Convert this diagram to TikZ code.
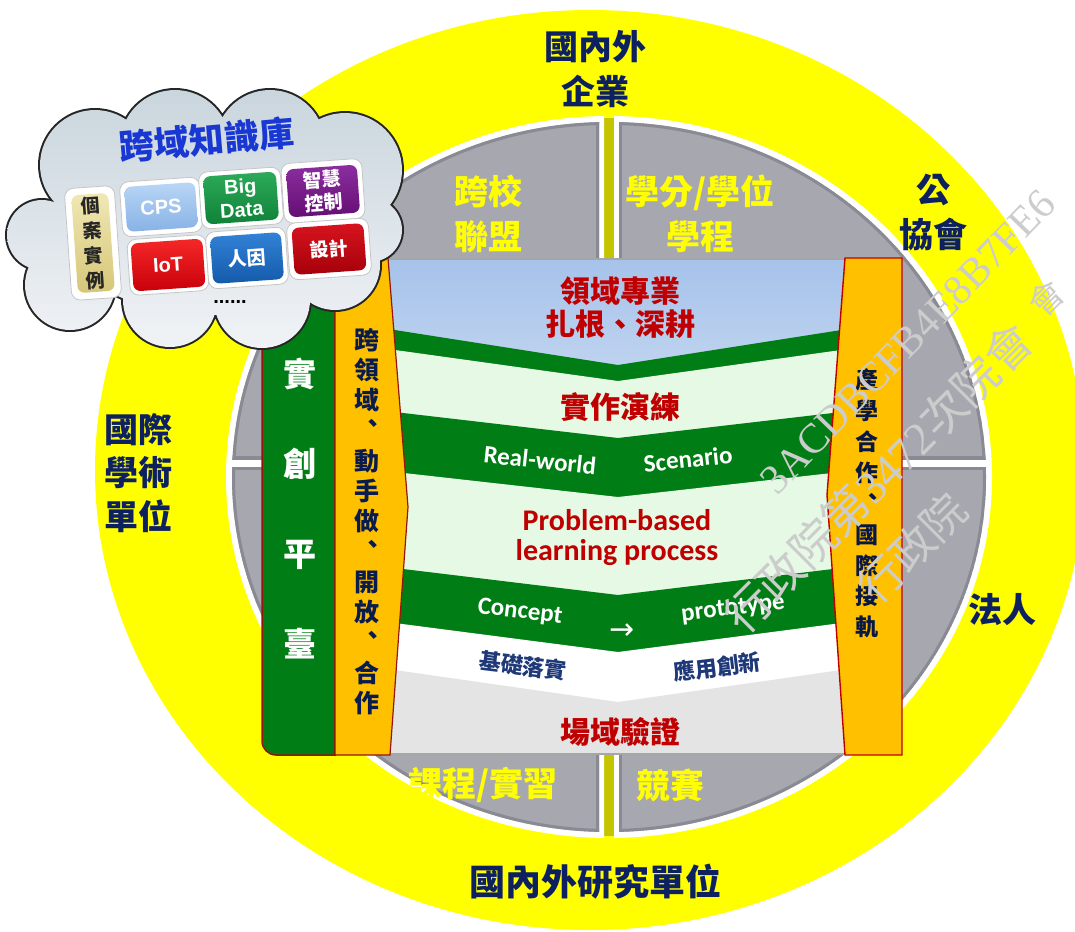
\documentclass[tikz,border=0pt]{standalone}
\usepackage{fontspec}
\newfontfamily\cjk{Noto Sans CJK TC}
\newfontfamily\arialf{Liberation Sans}
\newfontfamily\calf{Carlito}
\newfontfamily\serf{Liberation Serif}
\newfontfamily\djv{DejaVu Sans}
\newcommand\vcomma{\makebox[1em][c]{\raisebox{0.3em}{\hspace{0.5em}、}}}
\newcommand\fs[2]{\fontsize{#1}{#2}\selectfont}
\definecolor{navy}{RGB}{13,33,97}
\definecolor{yel}{RGB}{255,255,0}
\definecolor{olivey}{RGB}{196,196,0}
\definecolor{qgray}{RGB}{167,167,175}
\definecolor{qdark}{RGB}{138,138,148}
\definecolor{dred}{RGB}{192,0,0}
\definecolor{pgreen}{RGB}{0,125,20}
\definecolor{lgreen}{RGB}{229,249,229}
\definecolor{lblueA}{RGB}{165,194,234}
\definecolor{lblueB}{RGB}{198,216,241}
\definecolor{lgray}{RGB}{228,228,228}
\definecolor{orangeb}{RGB}{255,192,0}
\definecolor{barline}{RGB}{150,20,10}
\definecolor{bnavy}{RGB}{31,56,120}
\definecolor{ttlblue}{RGB}{25,55,210}
\definecolor{wmgray}{RGB}{204,204,204}
\definecolor{tanA}{RGB}{240,232,180}
\definecolor{tanB}{RGB}{214,198,120}
\definecolor{cpsA}{RGB}{185,214,245}
\definecolor{cpsB}{RGB}{135,178,230}
\definecolor{bdA}{RGB}{45,170,90}
\definecolor{bdB}{RGB}{15,130,55}
\definecolor{smA}{RGB}{140,45,160}
\definecolor{smB}{RGB}{100,15,115}
\definecolor{iotA}{RGB}{245,40,40}
\definecolor{iotB}{RGB}{200,0,10}
\definecolor{rnA}{RGB}{50,130,215}
\definecolor{rnB}{RGB}{20,90,170}
\definecolor{sjA}{RGB}{215,20,30}
\definecolor{sjB}{RGB}{165,0,10}
\definecolor{cloudA}{RGB}{200,212,220}
\definecolor{cloudB}{RGB}{242,244,247}
\begin{document}
\begin{tikzpicture}[x=1pt,y=-1pt,every node/.style={inner sep=0pt},
  navytxt/.style={text=navy, font=\cjk\bfseries\fs{34}{45}, align=center},
  yeltxt/.style={text=yel, font=\cjk\bfseries\fs{34}{45}, align=center},
  redtxt/.style={text=dred, font=\cjk\bfseries\fs{30}{33}, align=center},
  bandtxt/.style={text=white, font=\calf\bfseries\fs{25}{25}},
  bluetxt/.style={text=bnavy, font=\cjk\bfseries\fs{22}{22}},
  btnframe/.style={fill=white, draw=gray!45, line width=0.8, rounded corners=9, rotate=4},
  btn/.style={rounded corners=7, rotate=4, text=white, align=center},
  wm/.style={text=wmgray}]
\useasboundingbox (0,0) rectangle (1075,931);
\fill[white] (0,0) rectangle (1075,931);
% outer yellow ring
\fill[yel] (590,470) ellipse [x radius=495, y radius=460];
% inner quadrants
\fill[olivey] (609,477) ellipse [x radius=381, y radius=359];
\foreach \sx/\sy in {-1/-1,1/-1,-1/1,1/1}{
  \begin{scope}
    \clip ({609+\sx*5},{463+\sy*0}) rectangle ({609+\sx*500},{463+\sy*500});
    \fill[white] (609,477) ellipse [x radius=383, y radius=361];
  \end{scope}
  \begin{scope}
    \clip (609,477) ellipse [x radius=377, y radius=355];
    \clip ({609+\sx*10},{463+\sy*4}) rectangle ({609+\sx*500},{463+\sy*500});
    \fill[qgray] (609,477) ellipse [x radius=377, y radius=355];
    \draw[qdark, line width=6] (609,477) ellipse [x radius=377, y radius=355];
    \draw[qdark, line width=6] ({609+\sx*10},{463+\sy*4}) -- ({609+\sx*10},{463+\sy*500});
    \draw[qdark, line width=6] ({609+\sx*10},{463+\sy*4}) -- ({609+\sx*500},{463+\sy*4});
  \end{scope}
}
% centre panel
\begin{scope}
  \clip (388,259) -- (408,507) -- (390,754) -- (845,754) -- (827,495) -- (845,259) -- cycle;
  \fill[top color=lblueA, bottom color=lblueB] (380,255) rectangle (860,400);
  \fill[pgreen] (380,327.7) -- (618,365) -- (856,327.7) -- (856,760) -- (380,760) -- cycle;
  \fill[lgreen] (380,347.9) -- (618,381) -- (856,347.9) -- (856,760) -- (380,760) -- cycle;
  \fill[pgreen] (380,410.3) -- (618,438) -- (856,410.3) -- (856,760) -- (380,760) -- cycle;
  \fill[lgreen] (380,470.3) -- (618,497) -- (856,470.3) -- (856,760) -- (380,760) -- cycle;
  \fill[pgreen] (380,566.2) -- (618,595) -- (856,566.2) -- (856,760) -- (380,760) -- cycle;
  \fill[white] (380,621.1) -- (618,652) -- (856,621.1) -- (856,760) -- (380,760) -- cycle;
  \fill[lgray] (380,667.9) -- (618,702) -- (856,667.9) -- (856,760) -- (380,760) -- cycle;
\end{scope}
\draw[gray!70, line width=1.2] (388,259) -- (845,259) (390,754) -- (845,754);
% side bars
\draw[fill=pgreen, draw=barline, line width=1.5] (335,258) -- (262,258) -- (262,741)
  arc[start angle=180, end angle=90, radius=14] -- (335,755) -- cycle;
\draw[fill=orangeb, draw=barline, line width=1.2] (335,258) -- (388,258) -- (408,507) -- (390,755) -- (335,755) -- cycle;
\draw[fill=orangeb, draw=dred, line width=1.4] (845,258) -- (902,258) -- (902,755) -- (845,755) -- (827,495) -- cycle;
% cloud
\def\cloudshape{(95,165) circle[radius=55] (42,235) circle[radius=35] (70,285) circle[radius=45]
  (170,300) circle[radius=47] (262,300) circle[radius=48] (335,265) circle[radius=45]
  (370,230) circle[radius=32] (345,170) circle[radius=57] (270,145) circle[radius=55]
  (175,145) circle[radius=55] (210,225) ellipse[x radius=150, y radius=90]}
\draw[line width=4, draw=black!85] \cloudshape;
\begin{scope}
  \clip \cloudshape;
  \fill[top color=cloudA, bottom color=cloudB] (0,80) rectangle (420,360);
\end{scope}
% knowledge base buttons
\node[text=ttlblue, font=\cjk\bfseries\fs{35}{35}, rotate=5] (ttl) at (207,140) {跨域知識庫};
\node[btnframe, minimum width=50, minimum height=112] (f1) at (93,243) {};
\node[btn, minimum width=37, minimum height=98, top color=tanA, bottom color=tanB, text=black!85, font=\cjk\bfseries\fs{19}{25}] (b1) at (93,243) {個\\案\\實\\例};
\node[btnframe, minimum width=80, minimum height=55] (f2) at (161,207) {};
\node[btn, minimum width=71, minimum height=45, top color=cpsA, bottom color=cpsB, font=\arialf\bfseries\fs{20}{22}] (b2) at (161,207) {CPS};
\node[btnframe, minimum width=82, minimum height=57] (f3) at (241,198) {};
\node[btn, minimum width=73, minimum height=48, top color=bdA, bottom color=bdB, font=\arialf\bfseries\fs{20}{23}] (b3) at (241,198) {Big\\Data};
\node[btnframe, minimum width=81, minimum height=60] (f4) at (323,191) {};
\node[btn, minimum width=71, minimum height=48, top color=smA, bottom color=smB, font=\cjk\bfseries\fs{19}{23}] (b4) at (323,191) {智慧\\控制};
\node[btnframe, minimum width=79, minimum height=56] (f5) at (168,265) {};
\node[btn, minimum width=72, minimum height=48, top color=iotA, bottom color=iotB, font=\arialf\bfseries\fs{20}{22}] (b5) at (168,265) {IoT};
\node[btnframe, minimum width=80, minimum height=57] (f6) at (247,258) {};
\node[btn, minimum width=71, minimum height=47, top color=rnA, bottom color=rnB, font=\cjk\bfseries\fs{19}{22}] (b6) at (247,258) {人因};
\node[btnframe, minimum width=82, minimum height=57] (f7) at (329,249) {};
\node[btn, minimum width=72, minimum height=47, top color=sjA, bottom color=sjB, font=\cjk\bfseries\fs{19}{22}] (b7) at (329,249) {設計};
\node[font=\arialf\bfseries\fs{20}{20}] (dots) at (230,302) {......};
% outer texts
\node[navytxt] (t1) at (595,69) {國內外\\企業};
\node[navytxt] (t2) at (933,212) {公\\協會};
\node[navytxt, font=\cjk\bfseries\fs{34}{43.5}] (t3) at (138,473) {國際\\學術\\單位};
\node[navytxt] (t4) at (1002,610) {法人};
\node[navytxt, font=\cjk\bfseries\fs{36}{45}] (t5) at (595,882) {國內外研究單位};
% quadrant texts
\node[yeltxt] (q1) at (488,214) {跨校\\聯盟};
\node[yeltxt] (q2) at (700,214) {學分/學位\\學程};
\node[yeltxt] (q3) at (483,785) {課程/實習};
\node[yeltxt] (q4) at (670,785) {競賽};
% panel texts
\node[redtxt] (p1) at (620,308) {領域專業\\扎根、深耕};
\node[redtxt] (p2) at (620,407) {實作演練};
\node[bandtxt, rotate=-6] (p3) at (540,460) {Real-world};
\node[bandtxt, rotate=6] (p4) at (688,459) {Scenario};
\node[text=dred, font=\calf\bfseries\fs{30}{30}, align=center] (p5) at (617,538) {Problem-based\\learning process};
\node[bandtxt, rotate=-7] (p6) at (520,612) {Concept};
\node[text=white, font=\djv\fs{30}{30}] (p7) at (622,632) {→};
\node[bandtxt, rotate=7] (p8) at (733,609) {prototype};
\node[bluetxt, rotate=-7] (p9) at (523,666) {基礎落實};
\node[bluetxt, rotate=7] (p10) at (717,667) {應用創新};
\node[redtxt] (p11) at (620,732) {場域驗證};
% bar texts
\node[text=white, font=\cjk\bfseries\fs{33}{90}, align=center] (s1) at (300,508) {實\\創\\平\\臺};
\node[text=navy!80!black, font=\cjk\bfseries\fs{25}{30.25}, align=center] (s2) at (367,521.5)
  {跨\\領\\域\\\vcomma\\動\\手\\做\\\vcomma\\開\\放\\\vcomma\\合\\作};
\node[text=navy!70!black, font=\cjk\bfseries\fs{23}{30.9}, align=center] (s3) at (867,503.5)
  {產\\學\\合\\作\\\vcomma\\國\\際\\接\\軌};
% watermark
\node[wm, font=\serf\fs{42}{42}, rotate=46] (w1) at (908,342) {3ACDBCFB4E8B7FE6};
\node[wm, font=\cjk\fs{46}{46}, rotate=45] (w2) at (878,478) {行政院第{\serf 3472}次院會};
\node[wm, font=\cjk\fs{44}{44}, rotate=45] (w3) at (912,548) {行政院};
\node[wm, font=\cjk\fs{34}{34}, rotate=45] (w4) at (1046,298) {會};
\end{tikzpicture}
\end{document}
